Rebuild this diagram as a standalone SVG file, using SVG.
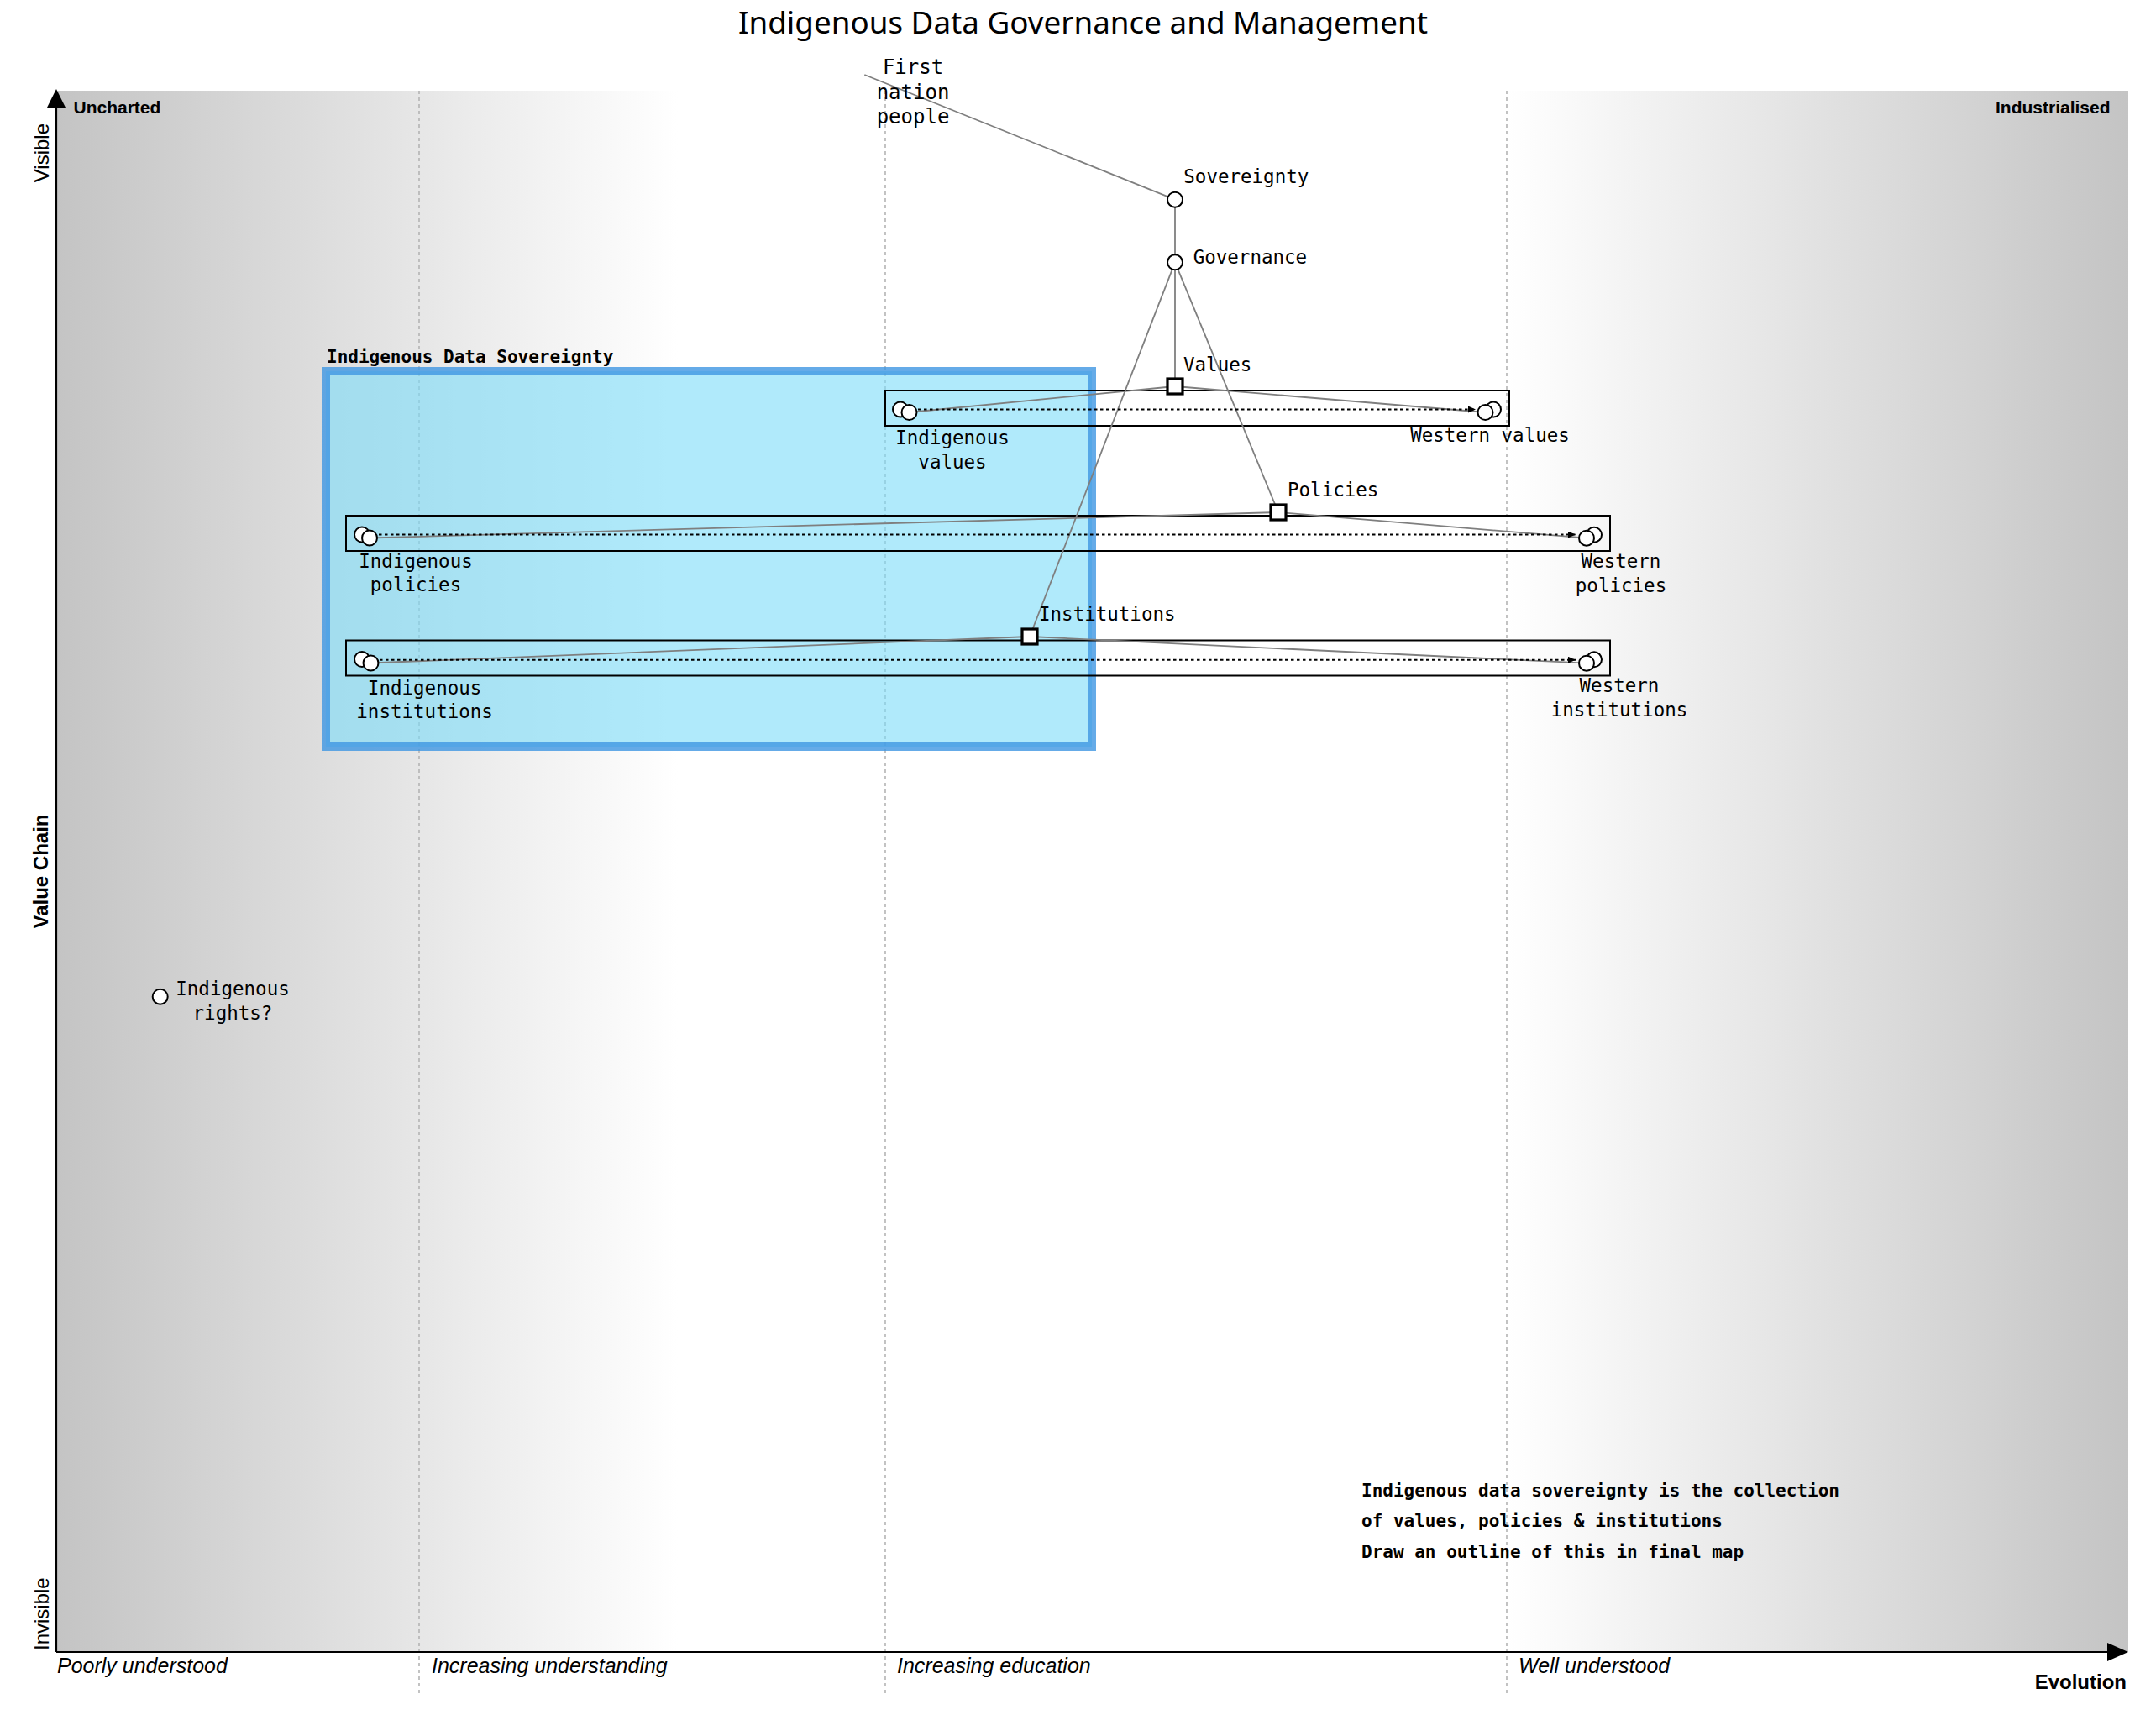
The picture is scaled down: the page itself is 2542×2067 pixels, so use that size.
<svg xmlns="http://www.w3.org/2000/svg" width="2542" height="2067" viewBox="0 0 2542 2067">
<style>
.mono{font-family:"DejaVu Sans Mono","Liberation Mono",monospace;font-size:22.5px;fill:#000}
.big{font-size:24px}
.note{font-family:"DejaVu Sans Mono","Liberation Mono",monospace;font-size:21px;font-weight:bold;fill:#000}
.axis{font-family:"Liberation Sans",Arial,sans-serif;fill:#000}
.evo{font-family:"Liberation Sans",Arial,sans-serif;font-size:25px;font-style:italic;fill:#000}
.comp{fill:#fff;stroke:#000;stroke-width:2}
.sq{fill:#fff;stroke:#000;stroke-width:3.2}
.pipe{fill:none;stroke:#000;stroke-width:2}
.link{stroke:#7f7f7f;stroke-width:1.8;fill:none}
.evolve{stroke:#000;stroke-width:2;stroke-dasharray:3.5 3.5;fill:none}
.divider{stroke:#b4b4b4;stroke-width:1.6;stroke-dasharray:4 4}
</style>
<defs>
<linearGradient id="wardleyGradient" x1="0" y1="0" x2="1" y2="0">
<stop offset="0" stop-color="rgb(196,196,196)"/>
<stop offset="0.3" stop-color="#fff"/>
<stop offset="0.7" stop-color="#fff"/>
<stop offset="1" stop-color="rgb(196,196,196)"/>
</linearGradient>
<marker id="arrow" markerUnits="userSpaceOnUse" markerWidth="9" markerHeight="8" refX="9" refY="4" orient="auto">
<path d="M0,0 L9,4 L0,8 z" fill="#000"/>
</marker>
</defs>
<rect width="2542" height="2067" fill="#fff"/>
<text x="1289.5" y="40" text-anchor="middle" font-family="'Noto Sans','Open Sans',sans-serif" font-size="36" textLength="821" lengthAdjust="spacingAndGlyphs">Indigenous Data Governance and Management</text>

<g id="map-background">
<rect x="67" y="108" width="2467" height="1859" fill="url(#wardleyGradient)"/>
<line class="divider" x1="499" y1="108" x2="499" y2="2017"/>
<line class="divider" x1="1054" y1="108" x2="1054" y2="2017"/>
<line class="divider" x1="1794" y1="108" x2="1794" y2="2017"/>
</g>

<g id="axes">
<line x1="67" y1="126" x2="67" y2="1967" stroke="#000" stroke-width="2.2"/>
<polygon points="56,128 67,106 78,128" fill="#000"/>
<line x1="67" y1="1967" x2="2511" y2="1967" stroke="#000" stroke-width="2.2"/>
<polygon points="2509,1956 2534,1967 2509,1978" fill="#000"/>
<text class="axis" x="87.5" y="135" font-size="21" font-weight="bold">Uncharted</text>
<text class="axis" x="2512.5" y="135" font-size="21" font-weight="bold" text-anchor="end">Industrialised</text>
<text class="axis" transform="translate(58,147) rotate(-90)" font-size="24" text-anchor="end">Visible</text>
<text class="axis" transform="translate(58,1965) rotate(-90)" font-size="24">Invisible</text>
<text class="axis" transform="translate(57,1037.5) rotate(-90)" font-size="24" font-weight="bold" text-anchor="middle">Value Chain</text>
<text class="axis" x="2532" y="2010.7" font-size="24" font-weight="bold" text-anchor="end">Evolution</text>
<text class="evo" x="68" y="1991.7">Poorly understood</text>
<text class="evo" x="514" y="1991.7">Increasing understanding</text>
<text class="evo" x="1068" y="1991.7">Increasing education</text>
<text class="evo" x="1808" y="1991.7">Well understood</text>
</g>

<g id="indigenous-data-sovereignty-area">
<rect x="388" y="442" width="912" height="447" fill="#7bdcf8" fill-opacity="0.6" stroke="#3f96e2" stroke-opacity="0.8" stroke-width="10"/>
<text class="note" x="389" y="432">Indigenous Data Sovereignty</text>
</g>

<g id="pipelines">
<rect class="pipe" x="1054" y="465" width="743" height="42"/>
<rect class="pipe" x="412" y="614" width="1505" height="42"/>
<rect class="pipe" x="412" y="762.5" width="1505" height="42"/>
</g>

<g id="connectors">
<line class="link" x1="1029.3" y1="89" x2="1399" y2="237.7"/>
<line class="link" x1="1399" y1="237.7" x2="1399" y2="312.3"/>
<line class="link" x1="1399" y1="312.3" x2="1399" y2="460"/>
<line class="link" x1="1399" y1="312.3" x2="1522" y2="610"/>
<line class="link" x1="1399" y1="312.3" x2="1226" y2="758"/>
<line class="link" x1="1399" y1="460" x2="1082.5" y2="491"/>
<line class="link" x1="1399" y1="460" x2="1768.5" y2="491"/>
<line class="link" x1="1522" y1="610" x2="440" y2="640.5"/>
<line class="link" x1="1522" y1="610" x2="1889" y2="640.7"/>
<line class="link" x1="1226" y1="758" x2="441.5" y2="789.5"/>
<line class="link" x1="1226" y1="758" x2="1889" y2="789.7"/>
<line class="evolve" x1="1093" y1="487.5" x2="1757" y2="487.5" marker-end="url(#arrow)"/>
<line class="evolve" x1="451" y1="636.6" x2="1876" y2="636.6" marker-end="url(#arrow)"/>
<line class="evolve" x1="452" y1="785.8" x2="1876" y2="785.8" marker-end="url(#arrow)"/>
</g>

<g id="first-nation-people">
<text class="mono big" x="1087" y="88.3" text-anchor="middle">First</text>
<text class="mono big" x="1087" y="117.7" text-anchor="middle">nation</text>
<text class="mono big" x="1087" y="146.7" text-anchor="middle">people</text>
</g>

<g id="sovereignty">
<circle class="comp" cx="1399" cy="237.7" r="9"/>
<text class="mono" x="1409.3" y="218.3">Sovereignty</text>
</g>

<g id="governance">
<circle class="comp" cx="1399" cy="312.3" r="9"/>
<text class="mono" x="1420.7" y="313.5">Governance</text>
</g>

<g id="values">
<rect class="sq" x="1390" y="451" width="18" height="18"/>
<text class="mono" x="1409" y="442">Values</text>
</g>

<g id="policies">
<rect class="sq" x="1513" y="601" width="18" height="18"/>
<text class="mono" x="1533" y="591">Policies</text>
</g>

<g id="institutions">
<rect class="sq" x="1217" y="749" width="18" height="18"/>
<text class="mono" x="1237" y="739">Institutions</text>
</g>

<g id="indigenous-values">
<circle class="comp" cx="1072" cy="487.5" r="9"/>
<circle class="comp" cx="1082.5" cy="491" r="9"/>
<text class="mono" x="1134" y="529" text-anchor="middle">Indigenous</text>
<text class="mono" x="1134" y="558" text-anchor="middle">values</text>
</g>

<g id="western-values">
<circle class="comp" cx="1778" cy="487.5" r="9"/>
<circle class="comp" cx="1768.5" cy="491" r="9"/>
<text class="mono" x="1774" y="526" text-anchor="middle">Western values</text>
</g>

<g id="indigenous-policies">
<circle class="comp" cx="431" cy="636.5" r="9"/>
<circle class="comp" cx="440" cy="640.5" r="9"/>
<text class="mono" x="495" y="675.5" text-anchor="middle">Indigenous</text>
<text class="mono" x="495" y="704" text-anchor="middle">policies</text>
</g>

<g id="western-policies">
<circle class="comp" cx="1898" cy="636.7" r="9"/>
<circle class="comp" cx="1889" cy="640.7" r="9"/>
<text class="mono" x="1930" y="675.7" text-anchor="middle">Western</text>
<text class="mono" x="1930" y="705" text-anchor="middle">policies</text>
</g>

<g id="indigenous-institutions">
<circle class="comp" cx="431" cy="785" r="9"/>
<circle class="comp" cx="441.5" cy="789.5" r="9"/>
<text class="mono" x="505.6" y="827" text-anchor="middle">Indigenous</text>
<text class="mono" x="505.6" y="855" text-anchor="middle">institutions</text>
</g>

<g id="western-institutions">
<circle class="comp" cx="1898" cy="785.3" r="9"/>
<circle class="comp" cx="1889" cy="789.7" r="9"/>
<text class="mono" x="1928" y="824" text-anchor="middle">Western</text>
<text class="mono" x="1928" y="853" text-anchor="middle">institutions</text>
</g>

<g id="indigenous-rights">
<circle class="comp" cx="190.7" cy="1186.7" r="9"/>
<text class="mono" x="277" y="1185" text-anchor="middle">Indigenous</text>
<text class="mono" x="277" y="1214" text-anchor="middle">rights?</text>
</g>

<g id="note">
<text class="note" x="1621" y="1781.7">Indigenous data sovereignty is the collection</text>
<text class="note" x="1621" y="1818.3">of values, policies &amp; institutions</text>
<text class="note" x="1621" y="1855">Draw an outline of this in final map</text>
</g>
</svg>
